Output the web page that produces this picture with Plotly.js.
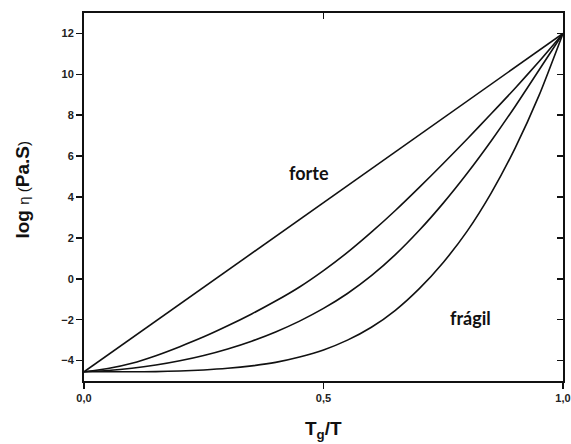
<!DOCTYPE html>
<html>
<head>
<meta charset="utf-8">
<script src="https://cdn.plot.ly/plotly-3.0.1.min.js"></script>
<style>
  html, body { margin: 0; padding: 0; background: #fff; }
  #chart { width: 571px; height: 444px; }
</style>
</head>
<body>
<div id="chart"></div>
<script>
// Reduced inverse temperature Tg/T
const tgOverT = [0, 0.05, 0.1, 0.15, 0.2, 0.25, 0.3, 0.35, 0.4, 0.45, 0.5,
                 0.55, 0.6, 0.65, 0.7, 0.75, 0.8, 0.85, 0.9, 0.95, 1.0];

// log viscosity (Pa.s) for each liquid, from strong to fragile
const strongX = [0, 1.0];
const strongY = [-4.55, 12];
const curveB = [-4.55, -4.39, -4.13, -3.76, -3.32, -2.84, -2.30, -1.72, -1.09, -0.40, 0.40,
                1.29, 2.28, 3.34, 4.47, 5.64, 6.84, 8.07, 9.32, 10.63, 12];
const curveC = [-4.55, -4.49, -4.38, -4.22, -4.01, -3.75, -3.43, -3.05, -2.60, -2.07, -1.45,
                -0.72, 0.15, 1.18, 2.37, 3.70, 5.16, 6.74, 8.43, 10.21, 12];
const curveD = [-4.55, -4.55, -4.55, -4.54, -4.51, -4.46, -4.38, -4.26, -4.09, -3.83, -3.48,
                -3.00, -2.37, -1.54, -0.48, 0.80, 2.33, 4.19, 6.39, 8.97, 12];

const xTicks = [0, 0.5, 1.0];
const yTicks = [-4, -2, 0, 2, 4, 6, 8, 10, 12];

const lineStyle = { color: '#111', width: 1.6, shape: 'spline', smoothing: 0.6 };

const traces = [
  { x: strongX, y: strongY, mode: 'lines', line: { color: '#111', width: 1.6 }, hoverinfo: 'skip' },
  { x: tgOverT, y: curveB, mode: 'lines', line: lineStyle, hoverinfo: 'skip' },
  { x: tgOverT, y: curveC, mode: 'lines', line: lineStyle, hoverinfo: 'skip' },
  { x: tgOverT, y: curveD, mode: 'lines', line: lineStyle, hoverinfo: 'skip' },
  // empty trace so the mirrored top/right axes are drawn
  { x: [], y: [], xaxis: 'x2', yaxis: 'y2', mode: 'lines', hoverinfo: 'skip' }
];

const sans = 'Liberation Sans, Arial, sans-serif';
const tickFont = { family: sans, size: 11, color: '#222', weight: 'bold' };
const titleFont = { family: sans, size: 19, color: '#111' };
const labelFont = { family: 'Lato, Open Sans, sans-serif', size: 18, color: '#111' };

const frameAxis = {
  ticklen: 6,
  tickwidth: 1.6,
  tickcolor: '#111',
  showline: true,
  linecolor: '#111',
  linewidth: 2,
  showgrid: false,
  zeroline: false
};

const layout = {
  width: 571,
  height: 444,
  margin: { l: 84, r: 8, t: 13, b: 63 },
  paper_bgcolor: '#fff',
  plot_bgcolor: '#fff',
  showlegend: false,
  separators: ',.',
  xaxis: Object.assign({}, frameAxis, {
    range: [0, 1],
    tickvals: xTicks,
    tickformat: '.1f',
    ticks: 'outside',
    tickfont: tickFont
  }),
  yaxis: Object.assign({}, frameAxis, {
    range: [-5, 13],
    tickvals: yTicks,
    ticks: 'outside',
    tickfont: tickFont
  }),
  xaxis2: Object.assign({}, frameAxis, {
    overlaying: 'x',
    side: 'top',
    range: [0, 1],
    tickvals: xTicks,
    ticks: 'inside',
    showticklabels: false
  }),
  yaxis2: Object.assign({}, frameAxis, {
    overlaying: 'y',
    side: 'right',
    range: [-5, 13],
    tickvals: yTicks,
    ticks: 'inside',
    showticklabels: false
  }),
  annotations: [
    // axis titles
    { xref: 'paper', yref: 'paper', x: 0.5, y: -0.133, yanchor: 'middle',
      text: '<b>T<sub>g</sub>/T</b>', showarrow: false, font: titleFont },
    { xref: 'paper', yref: 'paper', x: -0.1275, y: 0.52, xanchor: 'center', yanchor: 'middle',
      textangle: -90, showarrow: false, font: titleFont,
      text: '<b>log </b><span style="font-weight:normal;font-size:15px">η (</span><b>Pa.S</b><span style="font-weight:normal;font-size:15px">)</span>' },
    // regime labels
    { x: 0.47, y: 5.15, xref: 'x', yref: 'y', text: '<b>forte</b>', showarrow: false, font: labelFont },
    { x: 0.806, y: -1.91, xref: 'x', yref: 'y', text: '<b>frágil</b>', showarrow: false, font: labelFont }
  ]
};

Plotly.newPlot('chart', traces, layout, { staticPlot: true, displayModeBar: false });
</script>
</body>
</html>
